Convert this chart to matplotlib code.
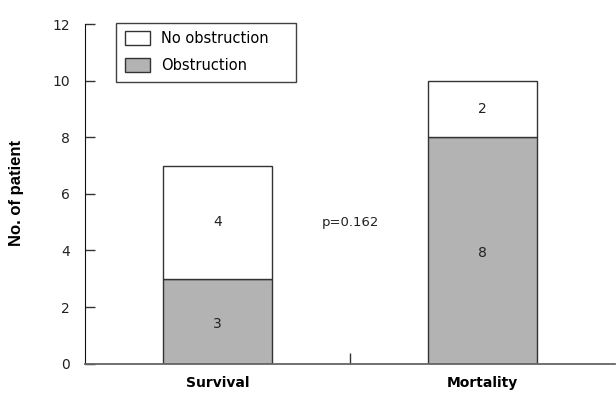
import matplotlib
matplotlib.use("Agg")
import matplotlib.pyplot as plt
from matplotlib.patches import Patch

categories = ["Survival", "Mortality"]
obstruction = [3, 8]
no_obstruction = [4, 2]
p_text = "p=0.162"
yticks = [0, 2, 4, 6, 8, 10, 12]

plt.rcParams['font.family'] = ['DejaVu Sans']

fig = plt.figure(figsize=(6.16, 3.94), dpi=100)
ax = fig.add_axes([85/616, 30.3/394, 530/616, 339.7/394])

x = [0.5, 1.5]
w = 0.41
edge = "#333333"
gray = "#b3b3b3"
txt = "#222222"
ax.bar(x, obstruction, width=w, color=gray, edgecolor=edge, linewidth=1.0, label="Obstruction")
ax.bar(x, no_obstruction, width=w, bottom=obstruction, color="white", edgecolor=edge, linewidth=1.0, label="No obstruction")

for xi, o, n in zip(x, obstruction, no_obstruction):
    ax.text(xi, o / 2 - 0.1, str(o), ha="center", va="center", fontsize=10, color=txt)
    ax.text(xi, o + n / 2, str(n), ha="center", va="center", fontsize=10, color=txt)

ax.text(1.0, 5, p_text, ha="center", va="center", fontsize=9.5, color=txt)

ax.set_xlim(0, 2)
ax.set_ylim(0, 12)
ax.set_yticks(yticks)
ax.set_yticklabels([str(t) for t in yticks], fontsize=10, color=txt)
ax.tick_params(axis="y", direction="in", length=7, width=1, color="#333333", pad=11)
ax.set_xticks([1.0])
ax.set_xticklabels([""])
ax.tick_params(axis="x", direction="in", length=8, width=1, color="#333333")
for xi, c in zip(x, categories):
    ax.text(xi, -0.45, c, ha="center", va="top", fontsize=10, fontweight="bold", clip_on=False)

ax.spines["top"].set_visible(False)
ax.spines["right"].set_visible(False)
ax.spines["left"].set_color("#111111")
ax.spines["bottom"].set_color("#666666")
ax.spines["bottom"].set_linewidth(1.3)

fig.text(16.5/616, 1 - 193/394, "No. of patient", rotation=90, ha="center", va="center",
         fontsize=12, fontweight="bold", family="Liberation Sans")

handles = [Patch(facecolor="white", edgecolor=edge, label="No obstruction"),
           Patch(facecolor=gray, edgecolor=edge, label="Obstruction")]
leg = ax.legend(handles=handles, loc="upper left", bbox_to_anchor=(31/530, 0, 180/530, 1.004),
                mode="expand", frameon=True,
                fancybox=False, edgecolor="#111111", fontsize=10.5, borderpad=0.6,
                handlelength=1.7, handleheight=1.1, labelspacing=0.82, handletextpad=0.8, borderaxespad=0)
leg.get_frame().set_linewidth(1.0)

fig.savefig("out.png", dpi=100)
